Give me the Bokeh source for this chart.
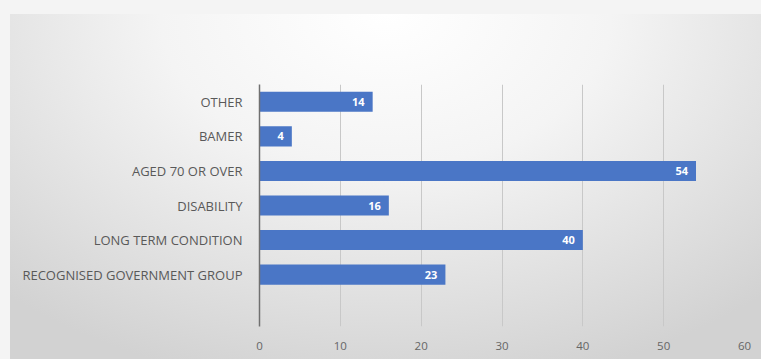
from bokeh.plotting import figure
from bokeh.models import ColumnDataSource, FactorRange, LabelSet, FixedTicker
from bokeh.core.properties import value
from bokeh.layouts import column
from bokeh.embed import file_html
from bokeh.resources import INLINE

categories = ["OTHER", "BAMER", "AGED 70 OR OVER", "DISABILITY",
              "LONG TERM CONDITION", "RECOGNISED GOVERNMENT GROUP"]
values = [14, 4, 54, 16, 40, 23]
x_ticks = [0, 10, 20, 30, 40, 50, 60]

factors = [" "] + categories[::-1]
src = ColumnDataSource(dict(cat=categories, val=values, lab=[str(v) for v in values]))

p = figure(width=751, height=345, y_range=FactorRange(factors=factors), x_range=(0, 60),
           output_backend="svg", toolbar_location=None,
           min_border_left=249, min_border_right=17, min_border_top=70, min_border_bottom=33)
p.styles = {"background": "radial-gradient(ellipse 75% 110% at 50% 0%, #ffffff 0%, #f4f4f4 40%, #d2d2d2 100%)"}
p.background_fill_alpha = 0
p.border_fill_alpha = 0
p.outline_line_color = None

p.hbar(y="cat", right="val", left=0, height=0.58, source=src,
       fill_color="#4a76c6", line_color=None)

labels = LabelSet(x="val", y="cat", text="lab", source=src, x_offset=-8,
                  text_align="right", text_baseline="middle", text_color="white",
                  text_font=value("Open Sans"), text_font_size="11px",
                  text_font_style="bold")
p.add_layout(labels)

p.xgrid.grid_line_color = "#c8c8c8"
p.xgrid.ticker = FixedTicker(ticks=x_ticks)
p.ygrid.grid_line_color = None

p.xaxis.ticker = FixedTicker(ticks=x_ticks)
p.xaxis.axis_line_color = None
p.xaxis.major_tick_line_color = None
p.xaxis.minor_tick_line_color = None
p.xaxis.major_label_standoff = 9
p.xaxis.major_label_text_font = "Open Sans"
p.xaxis.major_label_text_font_size = "11.5px"
p.xaxis.major_label_text_color = "#666666"

p.yaxis.axis_line_color = "#707070"
p.yaxis.axis_line_width = 1.5
p.yaxis.major_tick_line_color = None
p.yaxis.minor_tick_line_color = None
p.yaxis.major_label_standoff = 11
p.yaxis.major_label_text_font = "Open Sans"
p.yaxis.major_label_text_font_size = "13px"
p.yaxis.major_label_text_color = "#595959"

layout = column(p, width=761, height=359,
                styles={"background-color": "#f4f4f4", "padding": "14px 0 0 10px",
                        "box-sizing": "border-box"})

open("out.html", "w").write(file_html(layout, INLINE))
